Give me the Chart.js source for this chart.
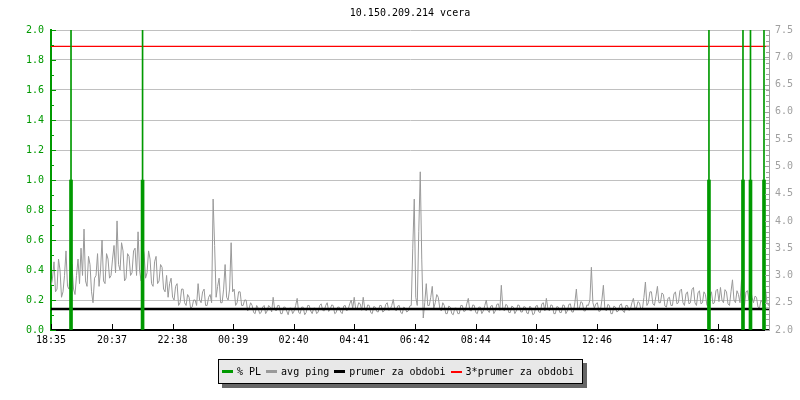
<!DOCTYPE html>
<html><head><meta charset="utf-8">
<script src="https://cdn.jsdelivr.net/npm/chart.js@4/dist/chart.umd.min.js"></script>
<style>
html,body{margin:0;padding:0;background:#fff;}
#wrap{position:relative;width:800px;height:400px;}
#legend{position:absolute;left:218px;top:359px;width:360px;height:23px;background:#e8e8e8;border:1px solid #000;box-shadow:4px 4px 0 #666;font:10px "DejaVu Sans Mono",monospace;color:#000;display:flex;align-items:center;box-sizing:content-box;}
#legend .it{display:flex;align-items:center;white-space:pre;}
#legend .sw{display:inline-block;width:11px;margin-right:4px;}
</style>
</head><body>
<div id="wrap"><canvas id="c" width="800" height="400"></canvas><div id="legend"></div></div>
<script>
// ---- data ----
const chartTitle = '10.150.209.214 vcera';
const xTickLabels = ['18:35','20:37','22:38','00:39','02:40','04:41','06:42','08:44','10:45','12:46','14:47','16:48'];
const xTickMinutes = [0,122,243,364,485,606,727,849,970,1091,1212,1333];
const rangeMinutes = 1435;
const pingStepMinutes = 3;
const pingValues = [
2.8,2.95,3.25,2.7,2.75,3.3,3.1,2.6,2.7,3.0, 3.45,2.8,2.75,3.15,3.2,2.75,2.65,3.0,3.3,2.85,
3.5,3.0,3.85,2.9,2.8,3.35,3.2,2.7,2.5,2.95, 3.0,3.4,2.8,3.1,3.65,2.9,2.85,3.4,3.3,2.95,
3.0,3.3,3.55,3.05,4.0,3.2,3.1,3.6,3.45,2.9, 2.95,3.4,3.35,3.0,3.05,3.45,3.5,3.0,3.8,3.1,
2.9,3.55,3.4,2.95,3.05,3.45,3.3,2.85,2.8,3.25, 3.35,2.85,2.9,3.2,3.15,2.75,2.7,3.0,2.6,2.85,
2.95,2.6,2.55,2.8,2.85,2.45,2.5,2.75,2.75,2.5, 2.45,2.65,2.6,2.4,2.42,2.55,2.55,2.45,2.85,2.55,
2.5,2.7,2.75,2.45,2.45,2.6,2.65,2.5,4.4,3.55, 2.6,2.8,2.95,2.5,2.5,2.75,3.2,2.6,2.55,2.75,
3.6,2.7,2.75,2.45,2.5,2.7,2.7,2.45,2.45,2.55, 2.55,2.35,2.4,2.5,2.45,2.32,2.3,2.45,2.4,2.3,
2.32,2.42,2.45,2.3,2.35,2.45,2.42,2.33,2.6,2.38, 2.35,2.45,2.45,2.3,2.3,2.42,2.42,2.35,2.28,2.4,
2.4,2.3,2.35,2.45,2.58,2.32,2.3,2.42,2.42,2.28, 2.32,2.45,2.45,2.35,2.3,2.4,2.4,2.3,2.33,2.45,
2.48,2.36,2.35,2.45,2.5,2.34,2.38,2.46,2.45,2.3, 2.32,2.42,2.42,2.33,2.3,2.44,2.45,2.35,2.38,2.48,
2.55,2.4,2.6,2.38,2.4,2.5,2.48,2.36,2.6,2.4, 2.35,2.46,2.45,2.32,2.3,2.43,2.42,2.34,2.33,2.45,
2.45,2.33,2.35,2.47,2.5,2.36,2.38,2.45,2.56,2.38, 2.35,2.44,2.45,2.32,2.3,2.42,2.4,2.33,2.35,2.44,
2.45,3.5,4.4,2.6,2.45,3.8,4.9,3.3,2.22,2.5, 2.85,2.45,2.45,2.6,2.8,2.4,2.5,2.65,2.6,2.4,
2.35,2.5,2.45,2.3,2.3,2.44,2.42,2.3,2.28,2.4, 2.4,2.3,2.3,2.45,2.45,2.34,2.35,2.48,2.58,2.36,
2.35,2.46,2.45,2.32,2.3,2.42,2.42,2.3,2.35,2.45, 2.55,2.36,2.32,2.44,2.45,2.3,2.35,2.47,2.48,2.36,
2.82,2.4,2.35,2.47,2.45,2.32,2.32,2.44,2.42,2.3, 2.35,2.46,2.45,2.33,2.33,2.43,2.42,2.31,2.3,2.44,
2.4,2.28,2.3,2.44,2.45,2.33,2.32,2.48,2.5,2.35, 2.58,2.4,2.35,2.46,2.45,2.3,2.3,2.43,2.42,2.32,
2.32,2.46,2.45,2.3,2.35,2.47,2.48,2.33,2.33,2.5, 2.75,2.38,2.4,2.52,2.5,2.35,2.35,2.46,2.45,2.55,
3.15,2.5,2.4,2.48,2.5,2.34,2.35,2.55,2.82,2.38, 2.35,2.47,2.45,2.3,2.3,2.44,2.42,2.33,2.35,2.46,
2.48,2.35,2.32,2.45,2.45,2.36,2.38,2.5,2.58,2.4, 2.4,2.52,2.5,2.38,2.38,2.6,2.88,2.45,2.5,2.7,
2.7,2.48,2.45,2.62,2.8,2.5,2.5,2.68,2.65,2.44, 2.42,2.58,2.6,2.45,2.45,2.66,2.7,2.48,2.5,2.72,
2.75,2.5,2.45,2.66,2.7,2.48,2.5,2.74,2.78,2.5, 2.45,2.68,2.72,2.48,2.5,2.7,2.65,2.45,2.45,2.62,
2.7,2.48,2.5,2.72,2.75,2.52,2.78,2.55,2.5,2.74, 2.7,2.48,2.45,2.7,2.92,2.55,2.5,2.72,2.65,2.5,
2.92,2.55,2.45,2.7,2.72,2.55,2.78,2.6,2.5,2.62, 2.6,2.42,2.4,2.55,2.5,2.4,2.75,2.5,2.45,2.52
];
const plMinutes = [40,183,1315,1383,1398,1425];
const plValues = [1,1,1,1,1,1];
const plPeakValues = [2,2,2,2,2,2];
const prumerValue = 2.385;
const triplePrumerValue = 7.2;
const seriesLabels = ['% PL','avg ping','prumer za obdobi','3*prumer za obdobi'];

// ---- style ----
const GREEN = '#009900', GRAY = '#999999', GRID = '#c0c0c0', AXGRAY = '#a0a0a0';
const MONO = '"DejaVu Sans Mono", monospace';

const pingData = pingValues.map((v,i)=>({x:i*pingStepMinutes, y:v}));
const plData = plMinutes.map((m,i)=>({x:m, y:plValues[i]}));
const plPeakData = plMinutes.map((m,i)=>({x:m, y:plPeakValues[i]}));
const flat = v => [{x:0,y:v},{x:rangeMinutes,y:v}];

const isEven = v => Math.round(v*10)%2===0;
const isHalf = v => Math.round(v*10)%5===0;

const innerTicks = {
  id:'innerTicks',
  afterDraw(chart){
    const {ctx, chartArea:a, scales:{x,y,y2}} = chart;
    ctx.save();
    ctx.lineWidth = 1;
    ctx.strokeStyle = GREEN;
    y.ticks.forEach(t=>{
      const p = Math.round(y.getPixelForValue(t.value))+0.5;
      ctx.beginPath(); ctx.moveTo(a.left, p); ctx.lineTo(a.left+(isEven(t.value)?5:3), p); ctx.stroke();
    });
    ctx.strokeStyle = AXGRAY;
    y2.ticks.forEach(t=>{
      const p = Math.round(y2.getPixelForValue(t.value))+0.5;
      ctx.beginPath(); ctx.moveTo(a.right, p); ctx.lineTo(a.right-(isHalf(t.value)?4:3), p); ctx.stroke();
    });
    ctx.strokeStyle = '#000';
    x.ticks.forEach(t=>{
      const p = Math.round(x.getPixelForValue(t.value))+0.5;
      ctx.beginPath(); ctx.moveTo(p, a.bottom); ctx.lineTo(p, a.bottom-6); ctx.stroke();
    });
    ctx.restore();
  }
};

new Chart(document.getElementById('c'), {
  type:'line',
  data:{datasets:[
    {type:'bar', label:seriesLabels[0], data:plData, xAxisID:'x', yAxisID:'y', backgroundColor:GREEN, barThickness:3, grouped:false, order:1},
    {type:'bar', label:seriesLabels[0]+' peak', data:plPeakData, xAxisID:'x', yAxisID:'y', backgroundColor:GREEN, barThickness:1, grouped:false, order:2},
    {label:seriesLabels[3], data:flat(triplePrumerValue), yAxisID:'y2', borderColor:'#ff0000', borderWidth:1.3, pointRadius:0, order:3},
    {label:seriesLabels[2], data:flat(prumerValue), yAxisID:'y2', borderColor:'#000', borderWidth:2.5, pointRadius:0, order:4},
    {label:seriesLabels[1], data:pingData, yAxisID:'y2', borderColor:GRAY, borderWidth:1, pointRadius:0, tension:0, order:5}
  ]},
  options:{
    responsive:false, animation:false,
    layout:{padding:{left:0,right:0,top:0,bottom:50}},
    plugins:{
      legend:{display:false}, tooltip:{enabled:false},
      title:{display:true, text:chartTitle, fullSize:false, color:'#000', font:{family:MONO,size:10,weight:'normal'}, padding:{top:7,bottom:11}}
    },
    scales:{
      x:{type:'linear', position:'bottom', min:0, max:rangeMinutes, offset:false,
         afterBuildTicks(s){ s.ticks = xTickMinutes.map(v=>({value:v})); },
         afterFit(s){ s.height = 20; },
         ticks:{autoSkip:false, maxRotation:0, padding:4, color:'#000', font:{family:MONO,size:10},
                callback:(v)=>{const i=xTickMinutes.indexOf(v); return i>=0?xTickLabels[i]:'';}},
         grid:{display:false, drawTicks:false},
         border:{display:true, color:'#000', width:2}},
      y:{position:'left', min:0, max:2,
         afterFit(s){ s.width = 51; },
         ticks:{stepSize:0.1, autoSkip:false, padding:7, color:GREEN, font:{family:MONO,size:10},
                callback:(v)=> isEven(v) ? Number(v).toFixed(1) : ''},
         grid:{drawTicks:false, color:(c)=> (c.tick && isEven(c.tick.value) && c.tick.value>0.05) ? GRID : 'rgba(0,0,0,0)', lineWidth:1},
         border:{display:true, color:GREEN, width:2}},
      y2:{position:'right', min:2, max:7.5,
         afterFit(s){ s.width = 31; },
         ticks:{stepSize:0.1, autoSkip:false, padding:6, color:AXGRAY, font:{family:MONO,size:10},
                callback:(v)=> isHalf(v) ? Number(v).toFixed(1) : ''},
         grid:{drawOnChartArea:false, drawTicks:false},
         border:{display:true, color:AXGRAY, width:1}}
    }
  },
  plugins:[innerTicks]
});

// HTML legend built from the series labels
const legendColors = [GREEN, GRAY, '#000', '#ff0000'];
const legendHeights = [3,3,3,2];
const lg = document.getElementById('legend');
lg.style.paddingLeft = '3px';
seriesLabels.forEach((t,i)=>{
  const it = document.createElement('span'); it.className='it';
  if(i>0) it.style.marginLeft='5px';
  const sw = document.createElement('span'); sw.className='sw';
  sw.style.height = legendHeights[i]+'px'; sw.style.background = legendColors[i];
  it.appendChild(sw);
  it.appendChild(document.createTextNode(t));
  lg.appendChild(it);
});
</script>
</body></html>
